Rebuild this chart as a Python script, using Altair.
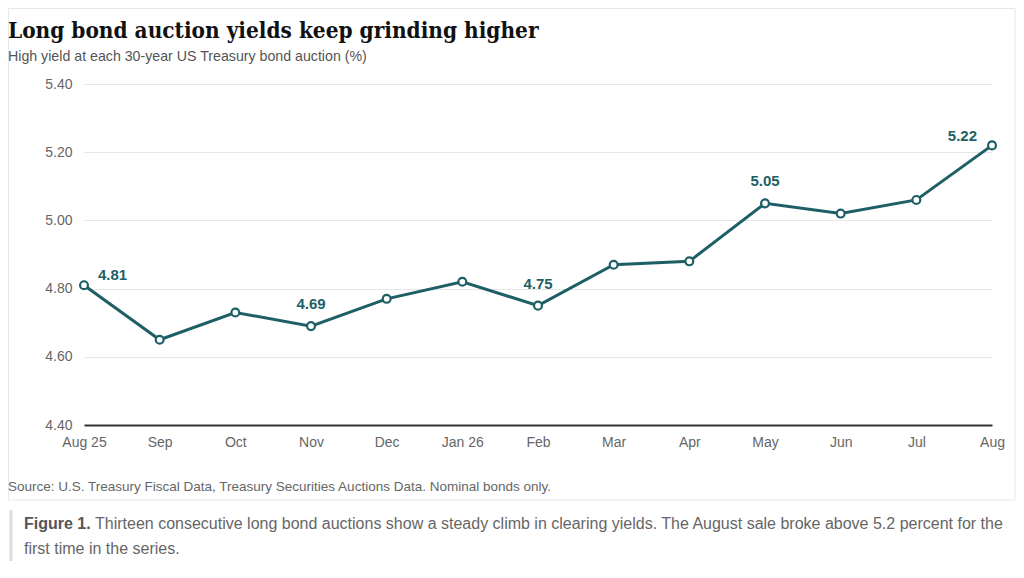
import altair as alt
import pandas as pd

months = ["Aug 25", "Sep", "Oct", "Nov", "Dec", "Jan 26", "Feb", "Mar", "Apr", "May", "Jun", "Jul", "Aug"]
yields = [4.81, 4.65, 4.73, 4.69, 4.77, 4.82, 4.75, 4.87, 4.88, 5.05, 5.02, 5.06, 5.22]
y_ticks = [4.4, 4.6, 4.8, 5.0, 5.2, 5.4]
label_first = ["Aug 25"]
label_mid = ["Nov", "Feb", "May"]
label_last = ["Aug"]

title_text = "Long bond auction yields keep grinding higher"
subtitle_text = "High yield at each 30-year US Treasury bond auction (%)"
source_text = "Source: U.S. Treasury Fiscal Data, Treasury Securities Auctions Data. Nominal bonds only."
caption_bold = "Figure 1."
caption_line1 = "Thirteen consecutive long bond auctions show a steady climb in clearing yields. The August sale broke above 5.2 percent for the"
caption_line2 = "first time in the series."

df = pd.DataFrame({"month": months, "yield": yields})

TEAL = "#1e5f66"
W, H = 908, 341

x = alt.X("month:N", sort=months, title=None,
          scale=alt.Scale(type="point", padding=0),
          axis=alt.Axis(labelAngle=0, ticks=False, domain=True, domainColor="#333333",
                        domainWidth=2, labelColor="#666666", labelFontSize=14,
                        labelPadding=10, grid=False))
y = alt.Y("yield:Q", title=None,
          scale=alt.Scale(domain=[4.4, 5.4], nice=False, zero=False),
          axis=alt.Axis(values=y_ticks, format=".2f", ticks=False, domain=False,
                        labelColor="#666666", labelFontSize=14, labelPadding=12,
                        gridColor="#e6e6e6", gridWidth=1))

base = alt.Chart(df)

line = base.mark_line(color=TEAL, strokeWidth=3).encode(x=x, y=y)
pts = base.mark_point(shape="circle", filled=True, fill="white", stroke=TEAL,
                      strokeWidth=2.2, size=62, opacity=1).encode(x=x, y=y)

lbl_style = dict(color=TEAL, fontSize=15, fontWeight="bold", font="Liberation Sans", baseline="middle")
t_mid = base.transform_filter(alt.FieldOneOfPredicate(field="month", oneOf=label_mid)).mark_text(
    align="center", dy=-22, **lbl_style).encode(x=x, y=y, text=alt.Text("yield:Q", format=".2f"))
t_first = base.transform_filter(alt.FieldOneOfPredicate(field="month", oneOf=label_first)).mark_text(
    align="left", dx=14, dy=-10, **lbl_style).encode(x=x, y=y, text=alt.Text("yield:Q", format=".2f"))
t_last = base.transform_filter(alt.FieldOneOfPredicate(field="month", oneOf=label_last)).mark_text(
    align="right", dx=-15, dy=-9, **lbl_style).encode(x=x, y=y, text=alt.Text("yield:Q", format=".2f"))

one = pd.DataFrame({"k": [0]})
ann = alt.Chart(one)

card = ann.mark_rect(fill=None, stroke="#e8e8e8", strokeWidth=1).encode(
    x=alt.value(-75.5), x2=alt.value(931), y=alt.value(-75.5), y2=alt.value(416))
title = ann.mark_text(text=title_text, align="left", baseline="middle", fontSize=22.4,
                      fontWeight="bold", color="#111111", font="DejaVu Serif Condensed").encode(
    x=alt.value(-76), y=alt.value(-53))
subtitle = ann.mark_text(text=subtitle_text, align="left", baseline="middle", fontSize=14.2,
                         color="#555555", font="Liberation Sans").encode(x=alt.value(-76), y=alt.value(-27))
source = ann.mark_text(text=source_text, align="left", baseline="middle", fontSize=13.5,
                       color="#666666", font="Liberation Sans").encode(x=alt.value(-76), y=alt.value(403))
bar = ann.mark_rule(color="#dddddd", strokeWidth=3).encode(
    x=alt.value(-73), y=alt.value(426), y2=alt.value(477))
cap_b = ann.mark_text(text=caption_bold, align="left", baseline="middle", fontSize=16,
                      fontWeight="bold", color="#555555", font="Liberation Sans").encode(
    x=alt.value(-60), y=alt.value(440))
cap_1 = ann.mark_text(text=caption_line1, align="left", baseline="middle", fontSize=16,
                      color="#666666", font="Liberation Sans").encode(x=alt.value(11), y=alt.value(440))
cap_2 = ann.mark_text(text=caption_line2, align="left", baseline="middle", fontSize=16,
                      color="#666666", font="Liberation Sans").encode(x=alt.value(-60), y=alt.value(465))

chart = alt.layer(card, line, pts, t_mid, t_first, t_last, title, subtitle, source, bar,
                  cap_b, cap_1, cap_2).properties(
    width=W, height=H,
    padding={"left": 76, "top": 76, "right": 24, "bottom": 138},
    autosize=alt.AutoSizeParams(type="none"),
).configure(font="Liberation Sans", background="white").configure_view(stroke=None, strokeWidth=0)

chart.save("out.html", embed_options={"renderer": "svg", "actions": False})
